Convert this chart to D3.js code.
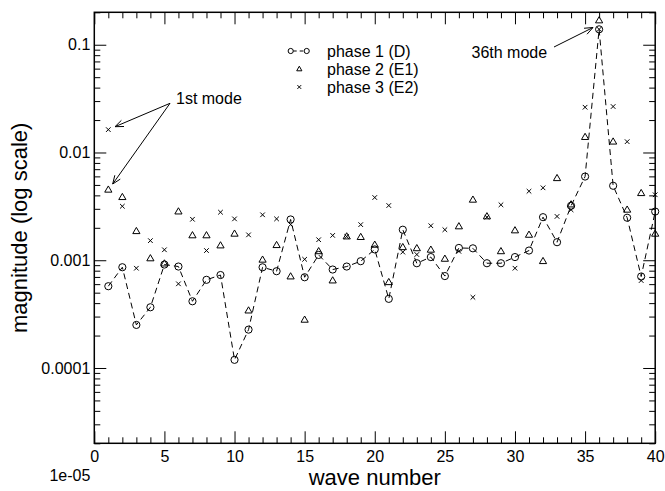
<!DOCTYPE html>
<html>
<head>
<meta charset="utf-8">
<script src="https://cdn.jsdelivr.net/npm/d3@7"></script>
<style>
  html, body { margin: 0; padding: 0; background: #fff; }
  svg { display: block; font-family: "Liberation Sans", Arial, Helvetica, sans-serif; }
</style>
</head>
<body>
<svg id="chart" width="665" height="491"></svg>
<script>
// ---- data ----
const waveNumbers = [1,2,3,4,5,6,7,8,9,10,11,12,13,14,15,16,17,18,19,20,
                     21,22,23,24,25,26,27,28,29,30,31,32,33,34,35,36,37,38,39,40];
const phase1D = [5.74e-4, 8.61e-4, 2.51e-4, 3.66e-4, 9.12e-4, 8.74e-4, 4.16e-4, 6.58e-4, 7.29e-4, 1.19e-4,
                 2.27e-4, 8.60e-4, 7.91e-4, 2.39e-3, 6.95e-4, 1.12e-3, 8.20e-4, 8.74e-4, 9.80e-4, 1.26e-3,
                 4.38e-4, 1.92e-3, 9.38e-4, 1.07e-3, 7.13e-4, 1.30e-3, 1.29e-3, 9.38e-4, 9.38e-4, 1.07e-3,
                 1.23e-3, 2.51e-3, 1.47e-3, 3.20e-3, 5.98e-3, 0.139, 4.91e-3, 2.48e-3, 7.06e-4, 2.83e-3];
const phase2E1 = [4.51e-3, 3.85e-3, 1.86e-3, 1.04e-3, 9.31e-4, 2.83e-3, 1.70e-3, 1.70e-3, 1.37e-3, 1.76e-3,
                  3.41e-4, 1.01e-3, 1.38e-3, 7.06e-4, 2.80e-4, 1.21e-3, 6.48e-4, 1.66e-3, 1.64e-3, 1.39e-3,
                  6.25e-4, 1.32e-3, 1.29e-3, 1.25e-3, 1.03e-3, 2.06e-3, 3.64e-3, 2.55e-3, 1.21e-3, 1.89e-3,
                  1.72e-3, 9.80e-4, 5.77e-3, 3.29e-3, 1.39e-2, 0.168, 1.26e-2, 2.94e-3, 4.19e-3, 1.76e-3];
const phase3E2 = [1.63e-2, 3.17e-3, 8.43e-4, 1.52e-3, 1.25e-3, 6.04e-4, 2.40e-3, 1.23e-3, 2.79e-3, 2.42e-3,
                  1.72e-3, 2.64e-3, 2.42e-3, 2.14e-3, 1.02e-3, 1.55e-3, 1.70e-3, 1.66e-3, 2.14e-3, 3.82e-3,
                  3.22e-3, 1.19e-3, 1.13e-3, 2.09e-3, 1.92e-3, 1.21e-3, 4.53e-4, 2.51e-3, 3.27e-3, 8.43e-4,
                  4.37e-3, 4.70e-3, 2.55e-3, 2.94e-3, 2.63e-2, 0.139, 2.67e-2, 1.26e-2, 6.48e-4, 4.05e-3];
const seriesNames = ["phase 1 (D)", "phase 2 (E1)", "phase 3 (E2)"];
const xTickValues = [0,5,10,15,20,25,30,35,40];
const yTickValues = [1e-5, 1e-4, 1e-3, 1e-2, 1e-1];
const yTickLabels = ["1e-05", "0.0001", "0.001", "0.01", "0.1"];
const xDomain = [0, 40];
const yDomain = [2e-5, 0.2];
const xTitle = "wave number";
const yTitle = "magnitude (log scale)";

// ---- layout ----
const L = 94.3, R = 655.2, T = 12.3, B = 443.3;
const svg = d3.select("#chart");
const x = d3.scaleLinear().domain(xDomain).range([L, R]);
const y = d3.scaleLog().domain(yDomain).range([B, T]);

const fs = 16;

// minor ticks
const xMinor = [];
for (let v = xDomain[0]; v <= xDomain[1]; v++) if (v % 5 !== 0) xMinor.push(v);
const yMinor = [];
for (let e = -5; e <= -1; e++) for (let k = 2; k <= 9; k++) {
  const v = k * Math.pow(10, e);
  if (v >= yDomain[0] * 0.999 && v <= yDomain[1] * 1.001) yMinor.push(v);
}
const yMajorIn = yTickValues.filter(v => v >= yDomain[0] && v <= yDomain[1]);

function styleAxis(g) {
  g.select(".domain").remove();
  g.selectAll(".tick line").attr("stroke", "#000").attr("stroke-width", 1);
  g.selectAll("text").attr("fill", "#000").style("font-size", fs + "px");
}

// bottom
svg.append("g").attr("transform", `translate(0,${B})`)
  .call(d3.axisBottom(x).tickValues(xTickValues).tickSize(-12).tickPadding(7).tickFormat(d3.format("d")))
  .call(styleAxis);
svg.append("g").attr("transform", `translate(0,${B})`)
  .call(d3.axisBottom(x).tickValues(xMinor).tickSize(-6).tickFormat(""))
  .call(styleAxis);
// top
svg.append("g").attr("transform", `translate(0,${T})`)
  .call(d3.axisTop(x).tickValues(xTickValues).tickSize(-12).tickFormat(""))
  .call(styleAxis);
svg.append("g").attr("transform", `translate(0,${T})`)
  .call(d3.axisTop(x).tickValues(xMinor).tickSize(-6).tickFormat(""))
  .call(styleAxis);
// left
svg.append("g").attr("transform", `translate(${L},0)`)
  .call(d3.axisLeft(y).tickValues(yMajorIn).tickSize(-12).tickFormat(""))
  .call(styleAxis);
svg.append("g").attr("transform", `translate(${L},0)`)
  .call(d3.axisLeft(y).tickValues(yMinor).tickSize(-6).tickFormat(""))
  .call(styleAxis);
// left labels (including the 1e-05 label below the axis)
svg.append("g").selectAll("text").data(yTickValues).join("text")
  .attr("x", L - 4).attr("y", d => y(d)).attr("dy", "0.35em")
  .attr("text-anchor", "end").style("font-size", fs + "px")
  .text((d, i) => yTickLabels[i]);
// right
svg.append("g").attr("transform", `translate(${R},0)`)
  .call(d3.axisRight(y).tickValues(yMajorIn).tickSize(-12).tickFormat(""))
  .call(styleAxis);
svg.append("g").attr("transform", `translate(${R},0)`)
  .call(d3.axisRight(y).tickValues(yMinor).tickSize(-6).tickFormat(""))
  .call(styleAxis);

// frame
svg.append("rect").attr("x", L).attr("y", T).attr("width", R - L).attr("height", B - T)
  .attr("fill", "none").attr("stroke", "#000").attr("stroke-width", 1.5);

// titles
svg.append("text").attr("x", (L + R) / 2).attr("y", 485).attr("text-anchor", "middle")
  .style("font-size", "22px").text(xTitle);
svg.append("text").attr("transform", `translate(27,${(T + B) / 2}) rotate(-90)`)
  .attr("text-anchor", "middle").style("font-size", "22px").text(yTitle);

// ---- series ----
const d1 = waveNumbers.map((w, i) => [w, phase1D[i]]);
const d2 = waveNumbers.map((w, i) => [w, phase2E1[i]]);
const d3s = waveNumbers.map((w, i) => [w, phase3E2[i]]);

const triPath = "M0,-3.8L3.6,2.4L-3.6,2.4Z";
const crossPath = "M-2.3,-2.3L2.3,2.3M-2.3,2.3L2.3,-2.3";

const plot = svg.append("g");
plot.append("path").datum(d1)
  .attr("d", d3.line().x(d => x(d[0])).y(d => y(d[1])))
  .attr("fill", "none").attr("stroke", "#000").attr("stroke-width", 1)
  .attr("stroke-dasharray", "6,4");
plot.append("g").selectAll("circle").data(d1).join("circle")
  .attr("cx", d => x(d[0])).attr("cy", d => y(d[1])).attr("r", 3.6)
  .attr("fill", "none").attr("stroke", "#000").attr("stroke-width", 1);
plot.append("g").selectAll("path").data(d2).join("path")
  .attr("transform", d => `translate(${x(d[0])},${y(d[1])})`)
  .attr("d", triPath).attr("fill", "none").attr("stroke", "#000").attr("stroke-width", 1);
plot.append("g").selectAll("path").data(d3s).join("path")
  .attr("transform", d => `translate(${x(d[0])},${y(d[1])})`)
  .attr("d", crossPath).attr("fill", "none").attr("stroke", "#000").attr("stroke-width", 1);

// ---- legend ----
const lg = svg.append("g");
const lx = 327, ly = [51, 69, 87];
lg.append("line").attr("x1", 290.7).attr("x2", 306.7).attr("y1", ly[0]).attr("y2", ly[0])
  .attr("stroke", "#000").attr("stroke-width", 1).attr("stroke-dasharray", "3.5,3").attr("stroke-dashoffset", -2.5);
[290.7, 306.7].forEach(cx => lg.append("circle").attr("cx", cx).attr("cy", ly[0]).attr("r", 2.6)
  .attr("fill", "#fff").attr("stroke", "#000").attr("stroke-width", 1));
lg.append("path").attr("transform", `translate(299.3,${ly[1]})`).attr("d", "M0,-2.8L2.6,1.8L-2.6,1.8Z")
  .attr("fill", "none").attr("stroke", "#000");
lg.append("path").attr("transform", `translate(299.3,${ly[2]})`).attr("d", "M-1.9,-1.9L1.9,1.9M-1.9,1.9L1.9,-1.9")
  .attr("fill", "none").attr("stroke", "#000");
seriesNames.forEach((n, i) => lg.append("text").attr("x", lx).attr("y", ly[i]).attr("dy", "0.35em")
  .style("font-size", fs + "px").text(n));

// ---- annotations ----
function arrow(x1, y1, x2, y2) {
  const g = svg.append("g").attr("stroke", "#000").attr("stroke-width", 1).attr("fill", "none");
  g.append("line").attr("x1", x1).attr("y1", y1).attr("x2", x2).attr("y2", y2);
  const a = Math.atan2(y2 - y1, x2 - x1), len = 9, spread = 0.38;
  g.append("path").attr("d",
    `M${x2 - len * Math.cos(a - spread)},${y2 - len * Math.sin(a - spread)}L${x2},${y2}L${x2 - len * Math.cos(a + spread)},${y2 - len * Math.sin(a + spread)}`);
}
svg.append("text").attr("x", 176).attr("y", 98.5).attr("dy", "0.35em").style("font-size", fs + "px").text("1st mode");
arrow(170, 103.3, 115, 126.7);
arrow(170, 103.3, 112.7, 184);
svg.append("text").attr("x", 471.5).attr("y", 52.5).attr("dy", "0.35em").style("font-size", fs + "px").text("36th mode");
arrow(554, 47, 593, 27.5);
</script>
</body>
</html>
